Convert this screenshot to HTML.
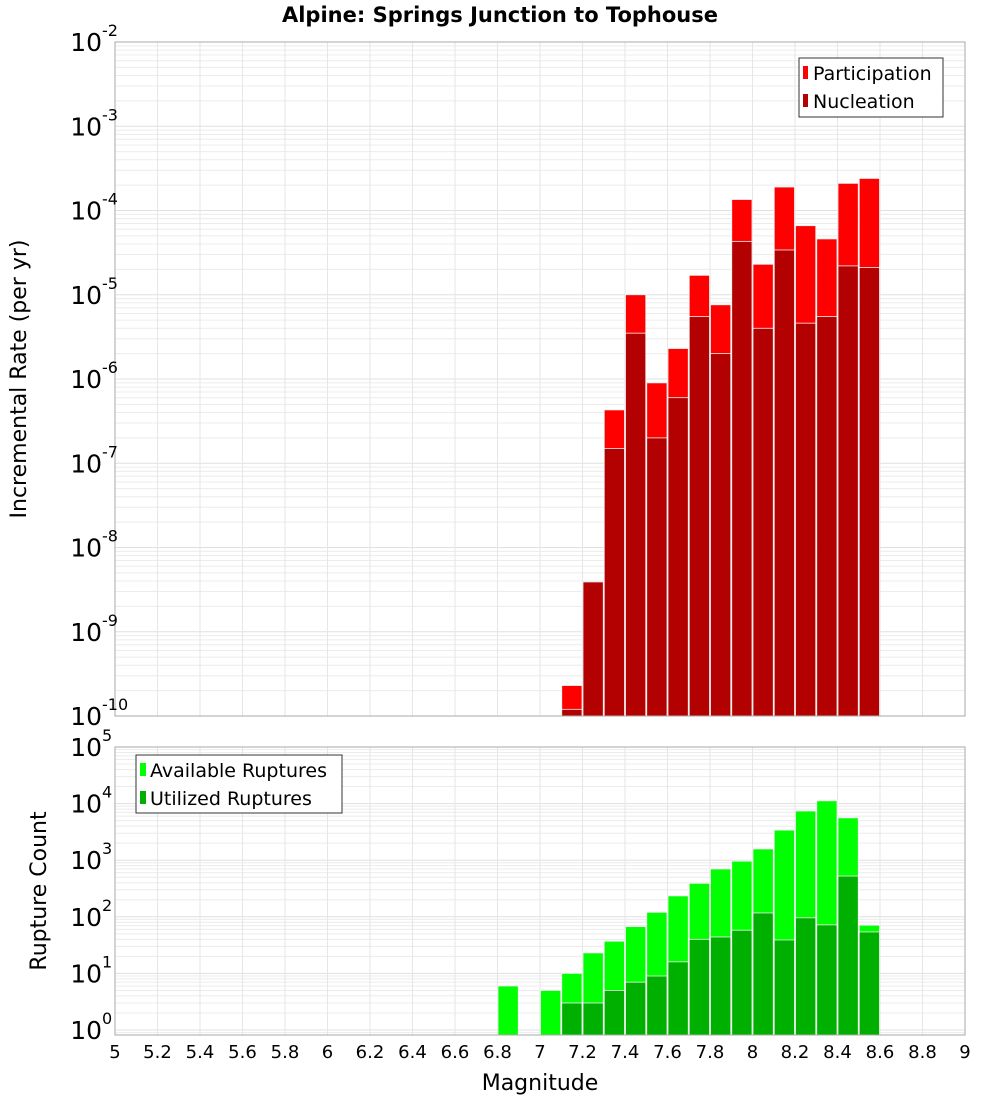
<!DOCTYPE html>
<html><head><meta charset="utf-8">
<style>
body{margin:0;background:#fff;font-family:"Liberation Sans","DejaVu Sans",sans-serif;}
svg text{font-family:"DejaVu Sans","Liberation Sans",sans-serif;}
</style></head>
<body>
<svg id="chart" width="1000" height="1100" xmlns="http://www.w3.org/2000/svg">
<text x="500" y="22" text-anchor="middle" font-size="21" font-weight="bold">Alpine: Springs Junction to Tophouse</text>
<text transform="translate(26,379) rotate(-90)" text-anchor="middle" font-size="22">Incremental Rate (per yr)</text>
<text transform="translate(46,891) rotate(-90)" text-anchor="middle" font-size="22">Rupture Count</text>
<text x="540" y="1090" text-anchor="middle" font-size="22">Magnitude</text>
<g id="top"></g>
<g id="bot"></g>
<g>
<rect x="799" y="58" width="144" height="59" fill="#fff" stroke="#333"/>
<rect x="803" y="66" width="5" height="13" fill="#ff0000"/>
<text x="813" y="80" font-size="19">Participation</text>
<rect x="803" y="94" width="5" height="13" fill="#b30000"/>
<text x="813" y="108" font-size="19">Nucleation</text>
</g>
<g>
<rect x="136" y="755" width="206" height="58" fill="#fff" stroke="#333"/>
<rect x="140" y="763" width="6" height="13" fill="#00ff00"/>
<text x="150" y="777" font-size="19">Available Ruptures</text>
<rect x="140" y="791" width="6" height="13" fill="#00b000"/>
<text x="150" y="805" font-size="19">Utilized Ruptures</text>
</g>
</svg>
<script>
const topBins=[7.15,7.25,7.35,7.45,7.55,7.65,7.75,7.85,7.95,8.05,8.15,8.25,8.35,8.45,8.55];
const participation=[2.3e-10,3.9e-9,4.3e-7,1e-5,9e-7,2.3e-6,1.7e-5,7.6e-6,1.35e-4,2.3e-5,1.9e-4,6.6e-5,4.6e-5,2.1e-4,2.4e-4];
const nucleation=[1.2e-10,3.9e-9,1.5e-7,3.5e-6,2e-7,6e-7,5.5e-6,2e-6,4.3e-5,4e-6,3.4e-5,4.6e-6,5.5e-6,2.2e-5,2.1e-5];
const botBins=[6.85,7.05,7.15,7.25,7.35,7.45,7.55,7.65,7.75,7.85,7.95,8.05,8.15,8.25,8.35,8.45,8.55];
const available=[6,5,10,23,37,67,120,234,390,700,960,1580,3400,7400,11200,5600,71];
const utilized=[0,0,3,3,5,7,9,16,40,44,58,117,39,96,72,525,54];
const xTicks=[5,5.2,5.4,5.6,5.8,6,6.2,6.4,6.6,6.8,7,7.2,7.4,7.6,7.8,8,8.2,8.4,8.6,8.8,9];
const topExps=[-2,-3,-4,-5,-6,-7,-8,-9,-10];
const botExps=[5,4,3,2,1,0];

const NS="http://www.w3.org/2000/svg";
const X0=115,X1=965;
const xs=m=>X0+(m-5)/4*(X1-X0);
function mk(p,t,a){const e=document.createElementNS(NS,t);for(const k in a)e.setAttribute(k,a[k]);p.appendChild(e);return e;}
const T={top:42,bot:716,hi:-2,lo:-10};
const B={top:747,bot:1035,y0:1030,dec:56.6};
const ysT=v=>T.top+(T.hi-Math.log10(v))*(T.bot-T.top)/(T.hi-T.lo);
const ysB=v=>B.y0-Math.log10(v)*B.dec;

function grid(g,yTop,yBot,ys,eLo,eHi){
  mk(g,'rect',{x:X0,y:yTop,width:X1-X0,height:yBot-yTop,fill:'#fff'});
  for(let e=eLo;e<=eHi;e++)for(let k=1;k<10;k++){const y=ys(k*Math.pow(10,e));if(y<yTop||y>yBot)continue;
    mk(g,'line',{x1:X0,x2:X1,y1:y,y2:y,stroke:k==1?'#e0e0e0':'#ececec','stroke-width':1});}
  xTicks.forEach(t=>{const x=xs(t);mk(g,'line',{x1:x,x2:x,y1:yTop,y2:yBot,stroke:'#e6e6e6'});});
}
function ylab(g,e,y){
  const t=mk(g,'text',{x:102,y:y+9,'text-anchor':'end','font-size':25});t.textContent='10';
  const s=mk(g,'text',{x:102,y:y-6,'font-size':16});s.textContent=String(e);
}
const gt=document.getElementById('top'),gb=document.getElementById('bot');
grid(gt,T.top,T.bot,ysT,-11,-2);
grid(gb,B.top,B.bot,ysB,-1,5);
const bw=(X1-X0)/40;
function bar(g,c,v,ys,yb,col,name){
  if(!(v>0))return;const y=ys(v);
  const r=mk(g,'rect',{x:xs(c)-bw/2+0.5,y:y,width:bw-1,height:yb-y,fill:col,stroke:'#f0f0f0','stroke-width':0.8});
  
  
}
topBins.forEach((c,i)=>{bar(gt,c,participation[i],ysT,T.bot,'#ff0000','participation-bar');});
topBins.forEach((c,i)=>{bar(gt,c,nucleation[i],ysT,T.bot,'#b30000','nucleation-bar');});
botBins.forEach((c,i)=>{bar(gb,c,available[i],ysB,B.bot,'#00ff00','available-bar');});
botBins.forEach((c,i)=>{bar(gb,c,utilized[i],ysB,B.bot,'#00b000','utilized-bar');});
mk(gt,'rect',{x:X0,y:T.top,width:X1-X0,height:T.bot-T.top,fill:'none',stroke:'#aaa'});
mk(gb,'rect',{x:X0,y:B.top,width:X1-X0,height:B.bot-B.top,fill:'none',stroke:'#aaa'});
topExps.forEach(e=>ylab(gt,e,ysT(Math.pow(10,e))));
botExps.forEach(e=>ylab(gb,e,ysB(Math.pow(10,e))));
xTicks.forEach(t=>{const tx=mk(gb,'text',{x:xs(t),y:1058,'text-anchor':'middle','font-size':18});
  
  
  tx.textContent=String(t);});
</script>
</body></html>
